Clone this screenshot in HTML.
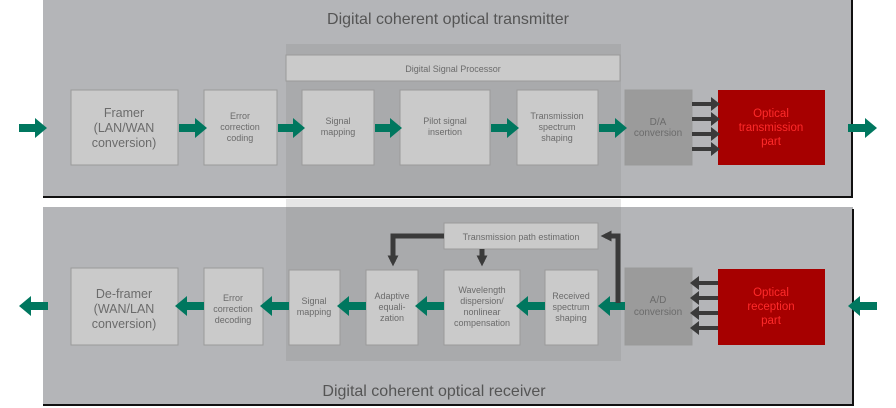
<!DOCTYPE html>
<html><head><meta charset="utf-8"><style>
html,body{margin:0;padding:0;background:#fff;}
svg{display:block;}
text{font-family:"Liberation Sans",sans-serif;fill:#6b6b6b;text-anchor:middle;}
</style></head><body>
<svg width="896" height="408" viewBox="0 0 896 408" xmlns="http://www.w3.org/2000/svg">
<defs>
<marker id="dk" viewBox="0 0 10 10" refX="6" refY="5" markerWidth="2.2" markerHeight="2.2" orient="auto"><path d="M0,0 L10,5 L0,10 z" fill="#3a3a3a"/></marker>
</defs>
<!-- panels -->
<rect x="43" y="0" width="810" height="197" fill="#b4b5b8"/>
<rect x="43" y="196" width="810" height="2" fill="#111"/>
<rect x="851" y="0" width="2" height="198" fill="#111"/>
<rect x="43" y="207" width="810" height="199" fill="#b4b5b8"/>
<rect x="43" y="404" width="810" height="2" fill="#111"/>
<rect x="852" y="209" width="2" height="197" fill="#111"/>
<!-- DSP overlay -->
<rect x="286" y="44" width="335" height="152" fill="#a9aaac"/>
<rect x="286" y="199" width="335" height="8" fill="#e6e6e6"/>
<rect x="286" y="207" width="335" height="154" fill="#a9aaac"/>
<rect x="286" y="55" width="334" height="26" fill="#cacaca" stroke="#9a9a9a" stroke-width="1"/>
<text x="453" y="72" font-size="9">Digital Signal Processor</text>
<text x="448" y="24" font-size="16" fill="#555" style="fill:#555">Digital coherent optical transmitter</text>
<text x="434" y="396" font-size="16" style="fill:#555">Digital coherent optical receiver</text>
<g fill="#cacaca" stroke="#9a9a9a" stroke-width="1">
<rect x="71" y="90" width="107" height="75"/>
<rect x="204" y="90" width="73" height="75"/>
<rect x="302" y="90" width="72" height="75"/>
<rect x="400" y="90" width="90" height="75"/>
<rect x="517" y="90" width="81" height="75"/>
<rect x="625" y="90" width="67" height="75" fill="#9b9b9b"/>
<rect x="71" y="268" width="107" height="77"/>
<rect x="204" y="268" width="59" height="77"/>
<rect x="289" y="270" width="51" height="75"/>
<rect x="366" y="270" width="52" height="75"/>
<rect x="444" y="270" width="76" height="75"/>
<rect x="545" y="270" width="53" height="75"/>
<rect x="444" y="223" width="154" height="26"/>
<rect x="625" y="268" width="67" height="77" fill="#9b9b9b"/>
</g>
<rect x="718" y="90" width="107" height="75" fill="#a60000"/>
<rect x="718" y="269" width="107" height="76" fill="#a60000"/>
<!-- text -->
<g font-size="12.5"><text x="124" y="117">Framer</text><text x="124" y="132">(LAN/WAN</text><text x="124" y="147">conversion)</text>
<text x="124" y="298">De-framer</text><text x="124" y="313">(WAN/LAN</text><text x="124" y="328">conversion)</text></g>
<g font-size="9">
<text x="240" y="119">Error</text><text x="240" y="130">correction</text><text x="240" y="141">coding</text>
<text x="338" y="124">Signal</text><text x="338" y="135">mapping</text>
<text x="445" y="124">Pilot signal</text><text x="445" y="135">insertion</text>
<text x="557" y="119">Transmission</text><text x="557" y="130">spectrum</text><text x="557" y="141">shaping</text>
<text x="658" y="125" font-size="10">D/A</text><text x="658" y="136" font-size="10">conversion</text>
<text x="233" y="301">Error</text><text x="233" y="312">correction</text><text x="233" y="323">decoding</text>
<text x="314" y="304">Signal</text><text x="314" y="315">mapping</text>
<text x="392" y="299">Adaptive</text><text x="392" y="310">equali-</text><text x="392" y="321">zation</text>
<text x="482" y="293">Wavelength</text><text x="482" y="304">dispersion/</text><text x="482" y="315">nonlinear</text><text x="482" y="326">compensation</text>
<text x="571" y="299">Received</text><text x="571" y="310">spectrum</text><text x="571" y="321">shaping</text>
<text x="521" y="240">Transmission path estimation</text>
<text x="658" y="303" font-size="10">A/D</text><text x="658" y="315" font-size="10">conversion</text>
</g>
<g font-size="11.5" style="fill:#ff2a2a">
<text x="771" y="117" style="fill:#ff2a2a">Optical</text><text x="771" y="131" style="fill:#ff2a2a">transmission</text><text x="771" y="145" style="fill:#ff2a2a">part</text>
<text x="771" y="296" style="fill:#ff2a2a">Optical</text><text x="771" y="310" style="fill:#ff2a2a">reception</text><text x="771" y="324" style="fill:#ff2a2a">part</text>
</g>
<!-- green arrows right -->
<g fill="#00775f">
<path d="M19,124h16v-6l12,10l-12,10v-6h-16z"/>
<path d="M179,124h16v-6l12,10l-12,10v-6h-16z"/>
<path d="M278,124h15v-6l12,10l-12,10v-6h-15z"/>
<path d="M375,124h15v-6l12,10l-12,10v-6h-15z"/>
<path d="M491,124h16v-6l12,10l-12,10v-6h-16z"/>
<path d="M599,124h16v-6l12,10l-12,10v-6h-16z"/>
<path d="M848,124h17v-6l12,10l-12,10v-6h-17z"/>
<!-- left -->
<path d="M48,302h-17v-6l-12,10l12,10v-6h17z"/>
<path d="M204,302h-17v-6l-12,10l12,10v-6h17z"/>
<path d="M289,302h-17v-6l-12,10l12,10v-6h17z"/>
<path d="M366,302h-17v-6l-12,10l12,10v-6h17z"/>
<path d="M444,302h-17v-6l-12,10l12,10v-6h17z"/>
<path d="M545,302h-17v-6l-12,10l12,10v-6h17z"/>
<path d="M625,302h-15v-6l-12,10l12,10v-6h15z"/>
<path d="M877,302h-17v-6l-12,10l12,10v-6h17z"/>
</g>
<!-- dark arrows -->
<g fill="#3a3a3a">
<path d="M692,102h19v-5l9,7l-9,7v-5h-19z"/>
<path d="M692,117h19v-5l9,7l-9,7v-5h-19z"/>
<path d="M692,132h19v-5l9,7l-9,7v-5h-19z"/>
<path d="M692,147h19v-5l9,7l-9,7v-5h-19z"/>
<path d="M718,281h-19v-5l-9,7l9,7v-5h19z"/>
<path d="M718,296h-19v-5l-9,7l9,7v-5h19z"/>
<path d="M718,311h-19v-5l-9,7l9,7v-5h19z"/>
<path d="M718,326h-19v-5l-9,7l9,7v-5h19z"/>
</g>
<g fill="none" stroke="#3a3a3a" stroke-width="5">
<path d="M618,303V236H605" marker-end="url(#dk)"/>
<path d="M444,236H393V262" marker-end="url(#dk)"/>
<path d="M482,249V262" marker-end="url(#dk)"/>
</g>
</svg>
</body></html>
